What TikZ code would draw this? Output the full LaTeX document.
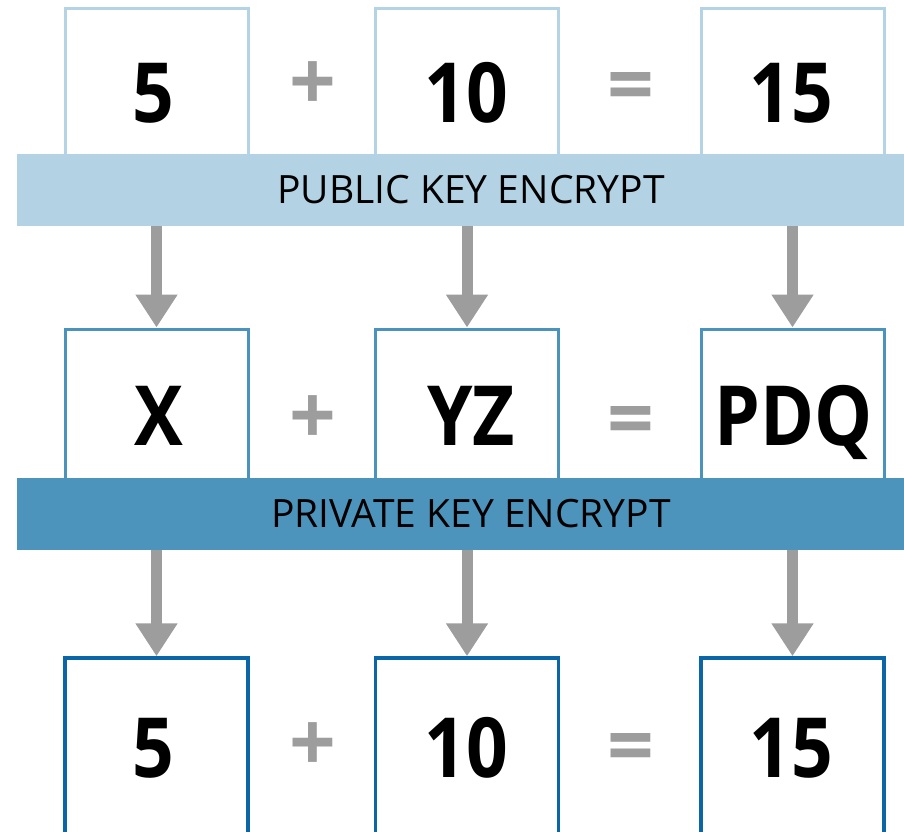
\documentclass[tikz,border=0pt]{standalone}
\usepackage{fontspec}
\setmainfont{Open Sans}
\newfontfamily\valuefont{Open Sans}[FakeStretch=0.88]
\usetikzlibrary{arrows.meta}
\definecolor{lightline}{HTML}{B4D3E5}
\definecolor{lightbar}{HTML}{B3D2E3}
\definecolor{midline}{HTML}{4A93BD}
\definecolor{midbar}{HTML}{4D94BD}
\definecolor{darkline}{HTML}{0A66A6}
\definecolor{symgray}{HTML}{9D9D9D}
\tikzset{
  cell/.style={draw, rectangle, line width=3pt, inner sep=0pt, fill=white,
    minimum width=183pt},
  keybar/.style={rectangle, inner sep=0pt, minimum width=908pt, minimum height=72pt,
    font=\fontsize{39}{39}\selectfont, text=black},
  value/.style={anchor=base, inner sep=0pt, font=\valuefont\bfseries\fontsize{83}{83}\selectfont},
  sym/.style={anchor=base, inner sep=0pt, text=symgray, font=\bfseries\fontsize{82}{82}\selectfont},
  flow/.style={draw=symgray, line width=11pt, -{Triangle[width=40pt,length=33pt]}}
}
\begin{document}
\begin{tikzpicture}[x=1pt,y=-1pt]
\useasboundingbox (0,0) rectangle (904,831);

% row 1: plain values
\node[cell, draw=lightline, minimum height=162pt] (a1) at (156.5,89) {};
\node[cell, draw=lightline, minimum height=162pt] (a2) at (467,89) {};
\node[cell, draw=lightline, minimum height=162pt] (a3) at (792.5,89) {};
\node[value] (va1) at (153,122) {5};
\node[value] (va2) at (466,122) {10};
\node[value] (va3) at (791,122) {15};
\node[sym] (pa) at (313,110) {+};
\node[sym] (ea) at (631,113) {=};

\node[keybar, fill=lightbar] (bar1) at (471,190) {PUBLIC KEY ENCRYPT};

% row 2: encrypted values
\node[cell, draw=midline, minimum height=165pt] (b1) at (156.5,411.5) {};
\node[cell, draw=midline, minimum height=165pt] (b2) at (467,411.5) {};
\node[cell, draw=midline, minimum height=165pt] (b3) at (792.5,411.5) {};
\node[value] (vb1) at (159,445) {X};
\node[value] (vb2) at (471,445) {YZ};
\node[value] (vb3) at (794,445) {PDQ};
\node[sym] (pb) at (313,444) {+};
\node[sym] (eb) at (631,447) {=};

\node[keybar, fill=midbar] (bar2) at (471,513.5) {PRIVATE KEY ENCRYPT};

% row 3: decrypted values
\node[cell, draw=darkline, line width=3.5pt, minimum height=176pt] (c1) at (156.5,746) {};
\node[cell, draw=darkline, line width=3.5pt, minimum height=176pt] (c2) at (467,746) {};
\node[cell, draw=darkline, line width=3.5pt, minimum height=176pt] (c3) at (792.5,746) {};
\node[value] (vc1) at (153,777) {5};
\node[value] (vc2) at (466,777) {10};
\node[value] (vc3) at (791,777) {15};
\node[sym] (pc) at (313,771) {+};
\node[sym] (ec) at (631,774) {=};

% arrows from each key bar down to the next row
\foreach \i in {1,2,3} {
  \draw[flow] (b\i.north |- bar1.south) -- (b\i.north);
  \draw[flow] (c\i.north |- bar2.south) -- (c\i.north);
}
\end{tikzpicture}
\end{document}
